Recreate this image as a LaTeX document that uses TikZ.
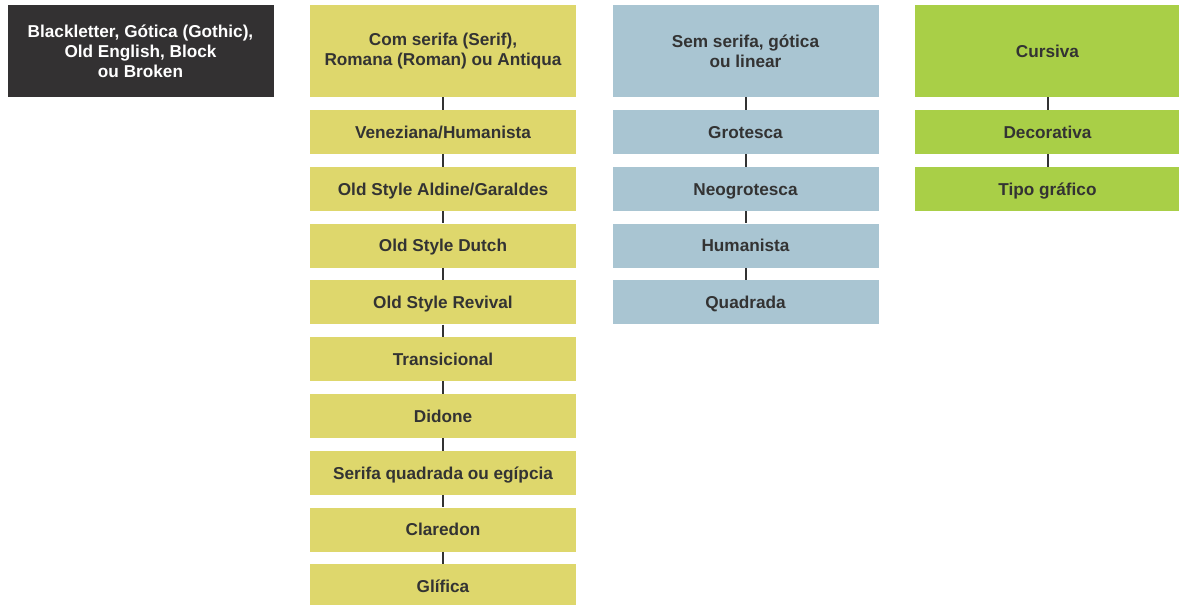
\documentclass[tikz,border=0pt]{standalone}
\usepackage{fontspec}
\setmainfont{Liberation Sans}
\usetikzlibrary{positioning}
\definecolor{blackbox}{HTML}{333132}
\definecolor{serifbox}{HTML}{DED76C}
\definecolor{sansbox}{HTML}{A9C5D2}
\definecolor{cursivebox}{HTML}{A9CF47}
\definecolor{textdark}{HTML}{333333}

\begin{document}
\begin{tikzpicture}[x=1pt,y=-1pt,
  every node/.style={font=\bfseries\fontsize{17.2}{20}\selectfont},
  box/.style={align=center,inner sep=4pt,minimum width=266pt,
              minimum height=44pt,text=textdark,
              text height=14.5pt,text depth=2pt},
  head/.style={box,minimum height=92pt,text height=,text depth=},
  link/.style={draw=textdark,line width=2pt}]
 \useasboundingbox (0,0) rectangle (1179,605);
 % black column
 \node[head,fill=blackbox,text=white] (blackletter) at (140.5,51)
    {Blackletter, Gótica (Gothic),\\Old English, Block\\ou Broken};
 % serif column
 \begin{scope}[box/.append style={fill=serifbox}]
 \node[head] (serif) at (443,51)
    {Com serifa (Serif),\\Romana (Roman) ou Antiqua};
 \node[box] (veneziana) at (443,132) {Veneziana/Humanista};
 \node[box] (aldine) at (443,188.8) {Old Style Aldine/Garaldes};
 \node[box] (dutch) at (443,245.6) {Old Style Dutch};
 \node[box] (revival) at (443,302.4) {Old Style Revival};
 \node[box] (transicional) at (443,359.2) {Transicional};
 \node[box] (didone) at (443,416) {Didone};
 \node[box] (egipcia) at (443,472.8) {Serifa quadrada ou egípcia};
 \node[box] (claredon) at (443,529.6) {Claredon};
 \node[box] (glifica) at (443,586.4) {Glífica};
 \end{scope}
 % sans column
 \begin{scope}[box/.append style={fill=sansbox}]
 \node[head] (semserifa) at (745.5,51) {Sem serifa, gótica\\ou linear};
 \node[box] (grotesca) at (745.5,132) {Grotesca};
 \node[box] (neogrotesca) at (745.5,188.8) {Neogrotesca};
 \node[box] (humanista) at (745.5,245.6) {Humanista};
 \node[box] (quadrada) at (745.5,302.4) {Quadrada};
 \end{scope}
 % cursive column
 \begin{scope}[box/.append style={fill=cursivebox}]
 \node[head] (cursiva) at (1047.5,51) {Cursiva};
 \node[box] (decorativa) at (1047.5,132) {Decorativa};
 \node[box] (tipografico) at (1047.5,188.8) {Tipo gráfico};
 \end{scope}
 % links
 \foreach \a/\b in {serif/veneziana,veneziana/aldine,aldine/dutch,
   dutch/revival,revival/transicional,transicional/didone,didone/egipcia,
   egipcia/claredon,claredon/glifica,semserifa/grotesca,
   grotesca/neogrotesca,neogrotesca/humanista,humanista/quadrada,
   cursiva/decorativa,decorativa/tipografico}
   \draw[link] (\a.south) -- (\b.north);
\end{tikzpicture}
\end{document}
